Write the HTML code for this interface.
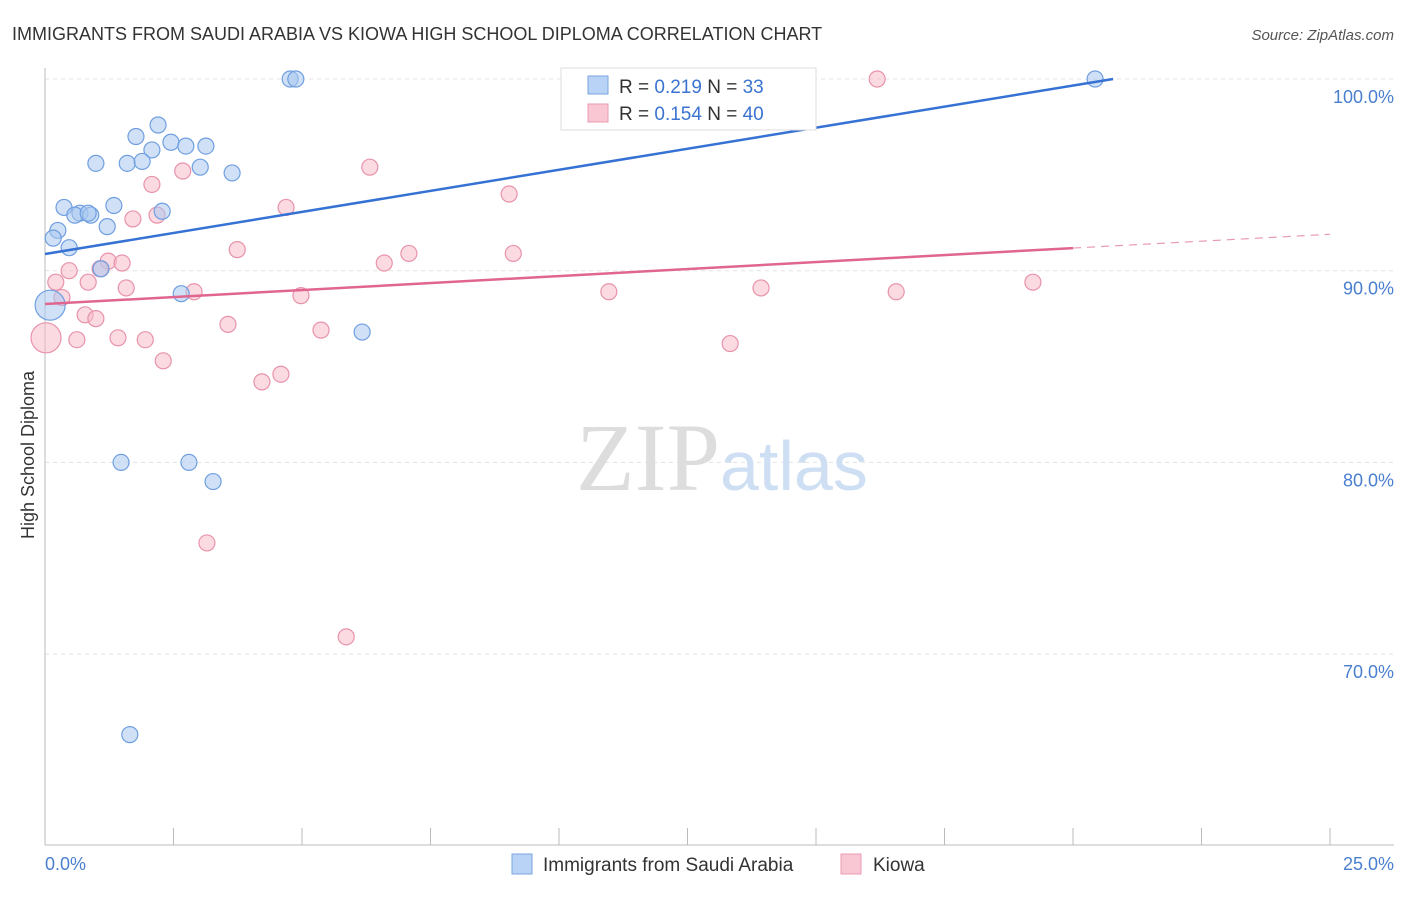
<!DOCTYPE html>
<html><head><meta charset="utf-8"><style>
body{margin:0;background:#fff;font-family:"Liberation Sans",sans-serif}
</style></head><body>
<svg width="1406" height="892" xmlns="http://www.w3.org/2000/svg" font-family="Liberation Sans, sans-serif">
<text x="12" y="40" font-size="18" fill="#333">IMMIGRANTS FROM SAUDI ARABIA VS KIOWA HIGH SCHOOL DIPLOMA CORRELATION CHART</text>
<text x="1394" y="40" font-size="15" fill="#555" font-style="italic" text-anchor="end">Source: ZipAtlas.com</text>
<g id="grid"></g>
<text x="720" y="490" font-size="96" fill="#ddd" font-family="Liberation Serif, serif" text-anchor="end">ZIP</text>
<text x="720" y="490" font-size="70" fill="#cfdff3">atlas</text>
<g id="marks"></g>
<text transform="translate(34,455) rotate(-90)" font-size="18" fill="#333" text-anchor="middle">High School Diploma</text>
<text x="45" y="870" font-size="18" fill="#4a7fd0">0.0%</text>
<text x="1394" y="870" font-size="18" fill="#4a7fd0" text-anchor="end">25.0%</text>
<g>
<rect x="561" y="68" width="255" height="62" fill="#fff" stroke="#ddd"/>
<rect x="588" y="76" width="20" height="18" fill="#b8d3f5" stroke="#7aa6e0"/>
<text x="619" y="93" font-size="19" fill="#333">R = <tspan fill="#3b74d0">0.219</tspan>   N = <tspan fill="#3b74d0">33</tspan></text>
<rect x="588" y="104" width="20" height="18" fill="#f9c6d4" stroke="#eb9bb3"/>
<text x="619" y="120" font-size="19" fill="#333">R = <tspan fill="#3b74d0">0.154</tspan>   N = <tspan fill="#3b74d0">40</tspan></text>
</g>
<g>
<rect x="512" y="854" width="20" height="20" fill="#b8d3f5" stroke="#7aa6e0"/>
<text x="543" y="871" font-size="19" fill="#333">Immigrants from Saudi Arabia</text>
<rect x="841" y="854" width="20" height="20" fill="#f9c6d4" stroke="#eb9bb3"/>
<text x="873" y="871" font-size="19" fill="#333">Kiowa</text>
</g>
</svg>
<script>
const yTicks=[100,90,80,70];
const yTickLabels=["100.0%","90.0%","80.0%","70.0%"];
const xTicks=[0,2.5,5,7.5,10,12.5,15,17.5,20,22.5,25];
const blueX=[4.77,4.88,20.43,2.20,1.77,2.45,2.74,3.13,2.08,0.99,1.60,1.89,3.02,3.64,0.37,1.34,2.28,0.68,0.58,0.89,1.21,0.25,0.16,0.47,1.09,2.65,6.17,1.48,2.80,3.27,1.65,0.10,0.84];
const blueY=[100,100,100,97.6,97.0,96.7,96.5,96.5,96.3,95.6,95.6,95.7,95.4,95.1,93.3,93.4,93.1,93.0,92.9,92.9,92.3,92.1,91.7,91.2,90.1,88.8,86.8,80.0,80.0,79.0,65.8,88.2,93.0];
const pinkX=[16.19,6.32,2.68,2.08,9.03,4.69,1.71,2.18,3.74,7.08,9.11,6.60,1.23,1.50,0.47,1.07,0.21,0.84,1.58,2.90,4.98,10.97,13.93,16.56,19.22,0.33,0.78,0.99,3.56,5.37,0.02,0.62,1.42,1.95,13.33,2.30,4.59,4.22,3.15,5.86];
const pinkY=[100,95.4,95.2,94.5,94.0,93.3,92.7,92.9,91.1,90.9,90.9,90.4,90.5,90.4,90.0,90.1,89.4,89.4,89.1,88.9,88.7,88.9,89.1,88.9,89.4,88.6,87.7,87.5,87.2,86.9,86.5,86.4,86.5,86.4,86.2,85.3,84.6,84.2,75.8,70.9];
const blueTrend=[[0,90.87],[20.78,100]];
const pinkTrend=[[0,88.26],[20.0,91.18]];
const pinkTrendExt=[[20.0,91.18],[25,91.9]];
const bigBlue=31, bigPink=30;
const X=v=>45+v*51.4, Y=v=>79+(100-v)*19.17;
const NS="http://www.w3.org/2000/svg";
function mk(t,a,p){const e=document.createElementNS(NS,t);for(const k in a)e.setAttribute(k,a[k]);p.appendChild(e);return e;}
const grid=document.getElementById('grid'),marks=document.getElementById('marks'),svg=document.querySelector('svg');
yTicks.forEach((t,i)=>{
 const l=mk('line',{x1:45,x2:1394,y1:Y(t),y2:Y(t),stroke:'#e3e3e3','stroke-dasharray':'4,4'},grid);
 
 
 const tx=mk('text',{x:1394,y:Y(t)+24,'font-size':18,fill:'#4a7fd0','text-anchor':'end'},svg);
 tx.textContent=yTickLabels[i];
 
 
});
const ax=mk('line',{x1:45,x2:45,y1:68,y2:845,stroke:'#bbb'},grid);


const bx=mk('line',{x1:45,x2:1394,y1:845,y2:845,stroke:'#bbb'},grid);


xTicks.forEach(t=>{const l=mk('line',{x1:X(t),x2:X(t),y1:828,y2:845,stroke:'#bbb'},grid);
 
 });
function pts(xs,ys,fill,stroke,big,name){xs.forEach((x,i)=>{
 const c=mk('circle',{cx:X(x),cy:Y(ys[i]),r:i===big?15:8,fill:fill,'fill-opacity':0.55,stroke:stroke,'stroke-width':1.2},marks);
 
 });}
pts(pinkX,pinkY,'#f7bccb','#e893ab',bigPink,'kiowa-point');
pts(blueX,blueY,'#a9c8f0','#6f9fe0',bigBlue,'saudi-arabia-point');
function line(d,col,dash,name){const l=mk('line',{x1:X(d[0][0]),y1:Y(d[0][1]),x2:X(d[1][0]),y2:Y(d[1][1]),stroke:col,'stroke-width':dash?1.2:2.5},marks);
 if(dash)l.setAttribute('stroke-dasharray','8,6');
 
 }
line(blueTrend,'#3572d4',false,'saudi-arabia-trendline');
line(pinkTrend,'#e0668f',false,'kiowa-trendline');
line(pinkTrendExt,'#e89ab2',true,'kiowa-trendline-extension');
</script>
</body></html>
